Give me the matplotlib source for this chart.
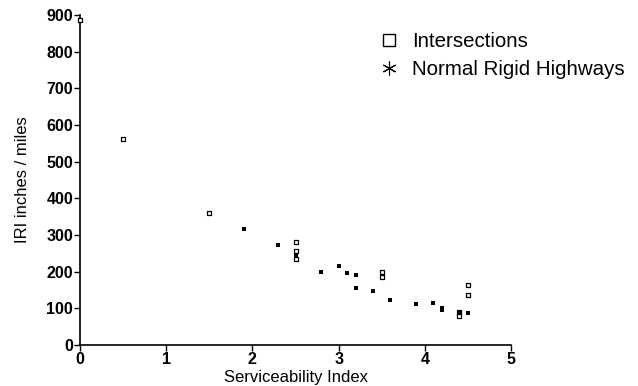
import matplotlib
matplotlib.use("Agg")
import matplotlib.pyplot as plt
from matplotlib.lines import Line2D

plt.rcParams['font.family'] = ['Liberation Sans', 'DejaVu Sans']

# Intersections (open squares)
int_x = [0.0, 0.5, 1.5, 2.5, 2.5, 2.5, 3.5, 3.5, 4.5, 4.5, 4.4, 4.4]
int_y = [886, 562, 360, 281, 256, 234, 200, 185, 164, 136, 90, 79]

# Normal Rigid Highways (filled markers)
hw_x = [1.9, 2.3, 2.5, 2.8, 3.0, 3.1, 3.2, 3.2, 3.4, 3.6, 3.9, 4.1, 4.2, 4.2, 4.4, 4.5]
hw_y = [316, 272, 246, 199, 215, 196, 191, 155, 147, 123, 112, 115, 101, 96, 86, 88]

x_ticks = [0, 1, 2, 3, 4, 5]
y_ticks = [0, 100, 200, 300, 400, 500, 600, 700, 800, 900]

fig = plt.figure(figsize=(6.38, 3.86), dpi=100)
ax = fig.add_axes([80/638, 1-345/386, (511-80)/638, (345-15)/386])

ax.scatter(int_x, int_y, marker='s', s=10, facecolors='white', edgecolors='black',
           linewidths=0.9, clip_on=False, zorder=3)
ax.scatter(hw_x, hw_y, marker='s', s=9, color='black', linewidths=0, clip_on=False, zorder=4)

ax.set_xlim(0, 5)
ax.set_ylim(0, 900)
ax.set_xticks(x_ticks)
ax.set_yticks(y_ticks)
ax.spines['top'].set_visible(False)
ax.spines['right'].set_visible(False)
for s in ['left', 'bottom']:
    ax.spines[s].set_linewidth(1.2)
ax.tick_params(axis='both', direction='out', length=4, width=1, labelsize=11.5, pad=1)
for lab in ax.get_xticklabels() + ax.get_yticklabels():
    lab.set_fontweight('bold')

ax.set_xlabel('Serviceability Index', fontsize=12, labelpad=2)
ax.set_ylabel('IRI inches / miles', fontsize=12, labelpad=12)

handles = [
    Line2D([], [], linestyle='none', marker='s', markersize=8, markerfacecolor='white',
           markeredgecolor='black', markeredgewidth=1.0),
    Line2D([], [], linestyle='none', marker=(6, 2, 0), markersize=10, color='black',
           markeredgewidth=0.8),
]
fig.legend(handles, ['Intersections', 'Normal Rigid Highways'], loc='upper left',
           bbox_to_anchor=(368/638, 1-24/386), frameon=False, fontsize=14.8,
           handletextpad=0.55, labelspacing=0.42, borderaxespad=0, handlelength=1.2)

fig.savefig('out.png', dpi=100)
